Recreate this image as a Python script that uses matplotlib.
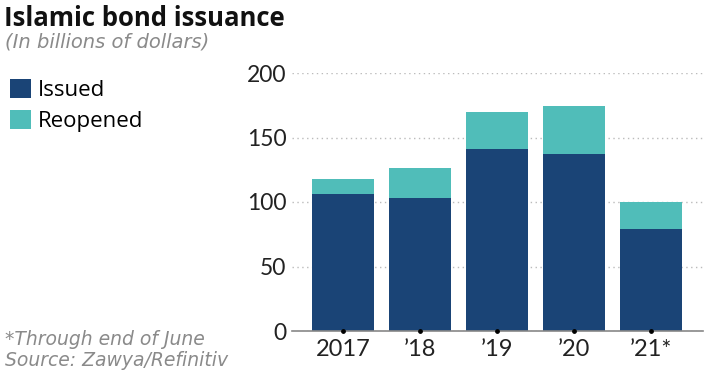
import matplotlib
matplotlib.use('Agg')
import matplotlib.pyplot as plt
import numpy as np

# data (billions of dollars)
years = ['2017', '\u201918', '\u201919', '\u201920', '\u201921*']
issued = [106, 103, 141, 137, 79]
reopened = [12, 23, 28.5, 37.5, 21]

navy = '#1a4476'
teal = '#50bdb9'
grey = '#8a8a8a'

plt.rcParams['font.family'] = ['Lato', 'DejaVu Sans']
side_font = ['Open Sans', 'DejaVu Sans']
note_font = ['DejaVu Sans']

W, H = 707, 377
fig = plt.figure(figsize=(W / 100, H / 100), dpi=100)
ax = fig.add_axes([292 / W, 1 - 331 / H, 411 / W, (331 - 73) / H])

x = np.arange(len(years))
b1 = ax.bar(x, issued, width=0.8, color=navy, label='Issued', zorder=2)
b2 = ax.bar(x, reopened, width=0.8, bottom=issued, color=teal, label='Reopened', zorder=2)

ax.set_ylim(0, 200)
ax.set_xlim(-0.66, len(years) - 0.33)
ax.set_yticks([0, 50, 100, 150, 200])
ax.set_xticks(x)
ax.set_xticklabels(years)
ax.tick_params(axis='y', length=0, labelsize=16.5, labelcolor='#222222', pad=4)
ax.tick_params(axis='x', length=0, labelsize=17, labelcolor='#222222', pad=6)
ax.grid(axis='y', color='#bbbbbb', linestyle=(0, (1, 2.5)), linewidth=1, zorder=0)
for s in ['top', 'right', 'left']:
    ax.spines[s].set_visible(False)
ax.spines['bottom'].set_color('#888888')
ax.spines['bottom'].set_linewidth(1.2)
ax.spines['bottom'].set_zorder(3)
# little dots under each bar
ax.scatter(x, [0] * len(x), s=6, color='black', zorder=4, clip_on=False)

fig.text(4 / W, 1 - 26 / H, 'Islamic bond issuance', fontsize=18.5, fontweight='bold',
         color='#111111', va='baseline', family=side_font)
fig.text(5 / W, 1 - 48 / H, '(In billions of dollars)', fontsize=14, style='italic',
         color=grey, va='baseline', family=note_font)

fig.legend(handles=[b1, b2], loc='upper left', bbox_to_anchor=(1 / W, 1 - 70 / H),
           frameon=False, prop={'family': side_font, 'size': 16},
           handlelength=0.95, handleheight=0.95,
           handletextpad=0.3, labelspacing=0.4, borderaxespad=0)

fig.text(5 / W, 1 - 345 / H, '*Through end of June', fontsize=13.5, style='italic',
         color=grey, va='baseline', family=note_font)
fig.text(5 / W, 1 - 366 / H, 'Source: Zawya/Refinitiv', fontsize=13.5, style='italic',
         color=grey, va='baseline', family=note_font)

fig.savefig('out.png', dpi=100)
